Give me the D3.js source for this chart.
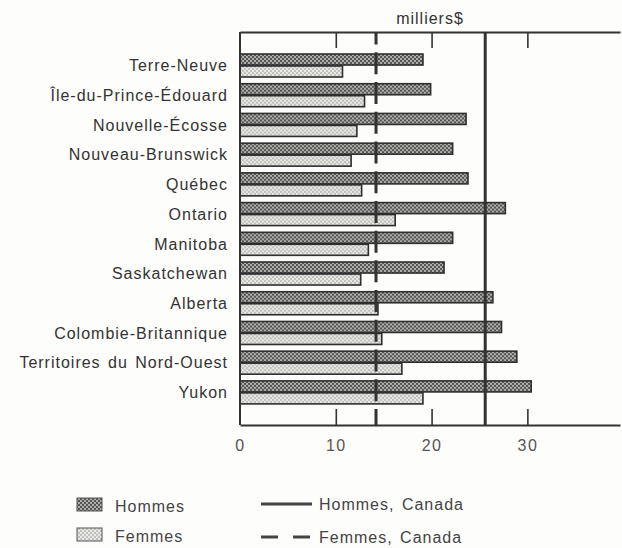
<!DOCTYPE html>
<html><head><meta charset="utf-8">
<script src="https://cdn.jsdelivr.net/npm/d3@7"></script>
<style>
html,body{margin:0;padding:0;background:#fdfdfb;}
svg{display:block;font-family:"Liberation Sans",Arial,Helvetica,sans-serif;}
</style></head>
<body><svg id="c" width="622" height="548"></svg>
<script>
const provinces = ["Terre-Neuve","Île-du-Prince-Édouard","Nouvelle-Écosse","Nouveau-Brunswick","Québec","Ontario","Manitoba","Saskatchewan","Alberta","Colombie-Britannique","Territoires du Nord-Ouest","Yukon"];
const hommes = [19.1, 19.9, 23.6, 22.2, 23.8, 27.7, 22.2, 21.3, 26.4, 27.3, 28.9, 30.4];
const femmes = [10.7, 13.0, 12.2, 11.6, 12.7, 16.2, 13.4, 12.6, 14.4, 14.8, 16.9, 19.1];
const canadaHommes = 25.6;
const canadaFemmes = 14.2;
const tickValues = [0, 10, 20, 30];
const seriesNames = ["Hommes", "Femmes"];
const unitLabel = "milliers$";
const legendLines = ["Hommes, Canada", "Femmes, Canada"];

(function(){
const svg = d3.select("#c");
const mLeft = 240, mRight = 620, mTop = 32, mBottom = 425;
const x = d3.scaleLinear().domain([0, 39.67]).range([mLeft, mRight]);
const y = d3.scaleBand().domain(provinces).range([54, 403.9]).paddingInner(0.226).paddingOuter(0);
const ySub = d3.scaleBand().domain(seriesNames).range([0, y.bandwidth()]).paddingInner(0.08);

const defs = svg.append("defs");
const pm = defs.append("pattern").attr("id","pH").attr("patternUnits","userSpaceOnUse").attr("width",4).attr("height",4);
pm.append("rect").attr("width",4).attr("height",4).attr("fill","#555553");
pm.append("circle").attr("cx",1).attr("cy",1).attr("r",0.9).attr("fill","#d8d8d4");
pm.append("circle").attr("cx",3).attr("cy",3).attr("r",0.9).attr("fill","#d8d8d4");
const pf = defs.append("pattern").attr("id","pF").attr("patternUnits","userSpaceOnUse").attr("width",4).attr("height",4);
pf.append("rect").attr("width",4).attr("height",4).attr("fill","#c0c0bc");
pf.append("circle").attr("cx",1).attr("cy",1).attr("r",1).attr("fill","#f4f4f0");
pf.append("circle").attr("cx",3).attr("cy",3).attr("r",1).attr("fill","#f4f4f0");
const fills = {Hommes:"url(#pH)", Femmes:"url(#pF)"};

const txt = sel => sel.attr("font-size",16).attr("letter-spacing","1px").attr("word-spacing","2px");

svg.append("text").attr("x", 430).attr("y", 24).attr("text-anchor","middle")
  .call(txt).attr("fill","#333").text(unitLabel);

const rows = svg.append("g").selectAll("g").data(provinces).join("g")
  .attr("transform", d => `translate(0,${y(d)})`);
rows.selectAll("rect").data((d,i) => [{k:"Hommes", v:hommes[i]},{k:"Femmes", v:femmes[i]}]).join("rect")
  .attr("x", x(0)).attr("y", d => ySub(d.k))
  .attr("width", d => x(d.v) - x(0)).attr("height", ySub.bandwidth())
  .attr("fill", d => fills[d.k]).attr("stroke","#2e2e2e").attr("stroke-width",1.6);

svg.append("g").selectAll("text").data(provinces).join("text")
  .attr("x", 228).attr("y", d => y(d) + y.bandwidth()/2).attr("dy","0.36em")
  .attr("text-anchor","end").call(txt).attr("fill","#333")
  .text(d => d);

const axTop = svg.append("g").attr("transform",`translate(0,${mTop})`)
  .call(d3.axisTop(x).tickValues(tickValues.filter(v=>v>0)).tickSizeInner(-16).tickSizeOuter(0).tickFormat(""));
const axBot = svg.append("g").attr("transform",`translate(0,${mBottom})`)
  .call(d3.axisBottom(x).tickValues(tickValues).tickSizeInner(-16).tickSizeOuter(0).tickPadding(15));
[axTop, axBot].forEach(a => {
  a.select(".domain").attr("stroke","#333").attr("stroke-width",2);
  a.selectAll(".tick line").attr("stroke","#333").attr("stroke-width",1.6);
  a.selectAll(".tick text").attr("font-size",16).attr("letter-spacing","1.5px").attr("fill","#555").attr("font-family","inherit");
});
axBot.selectAll(".tick").filter(d => d === 0).select("line").remove();

svg.append("line").attr("x1",x(0)).attr("x2",x(0)).attr("y1",mTop).attr("y2",mBottom)
  .attr("stroke","#333").attr("stroke-width",2);

svg.append("line").attr("x1",x(canadaHommes)).attr("x2",x(canadaHommes)).attr("y1",mTop).attr("y2",mBottom)
  .attr("stroke","#333").attr("stroke-width",3);
svg.append("line").attr("x1",x(canadaFemmes)).attr("x2",x(canadaFemmes)).attr("y1",mTop).attr("y2",mBottom)
  .attr("stroke","#333").attr("stroke-width",3).attr("stroke-dasharray","22,7.72").attr("stroke-dashoffset",9.4);

const leg = svg.append("g");
seriesNames.forEach((s,i) => {
  const yy = 498 + i*30;
  leg.append("rect").attr("x",77).attr("y",yy).attr("width",25).attr("height",13)
    .attr("fill",fills[s]).attr("stroke","#555").attr("stroke-width",1);
  leg.append("text").attr("x",115).attr("y",yy+14).call(txt).attr("fill","#444").text(s);
});
legendLines.forEach((s,i) => {
  const yy = 504 + i*33;
  leg.append("line").attr("x1",261).attr("x2",312).attr("y1",yy).attr("y2",yy)
    .attr("stroke","#444").attr("stroke-width",3).attr("stroke-dasharray", i ? "17,15" : null);
  leg.append("text").attr("x",319).attr("y",yy+6).call(txt).attr("fill","#444").text(s);
});
})();
</script></body></html>
